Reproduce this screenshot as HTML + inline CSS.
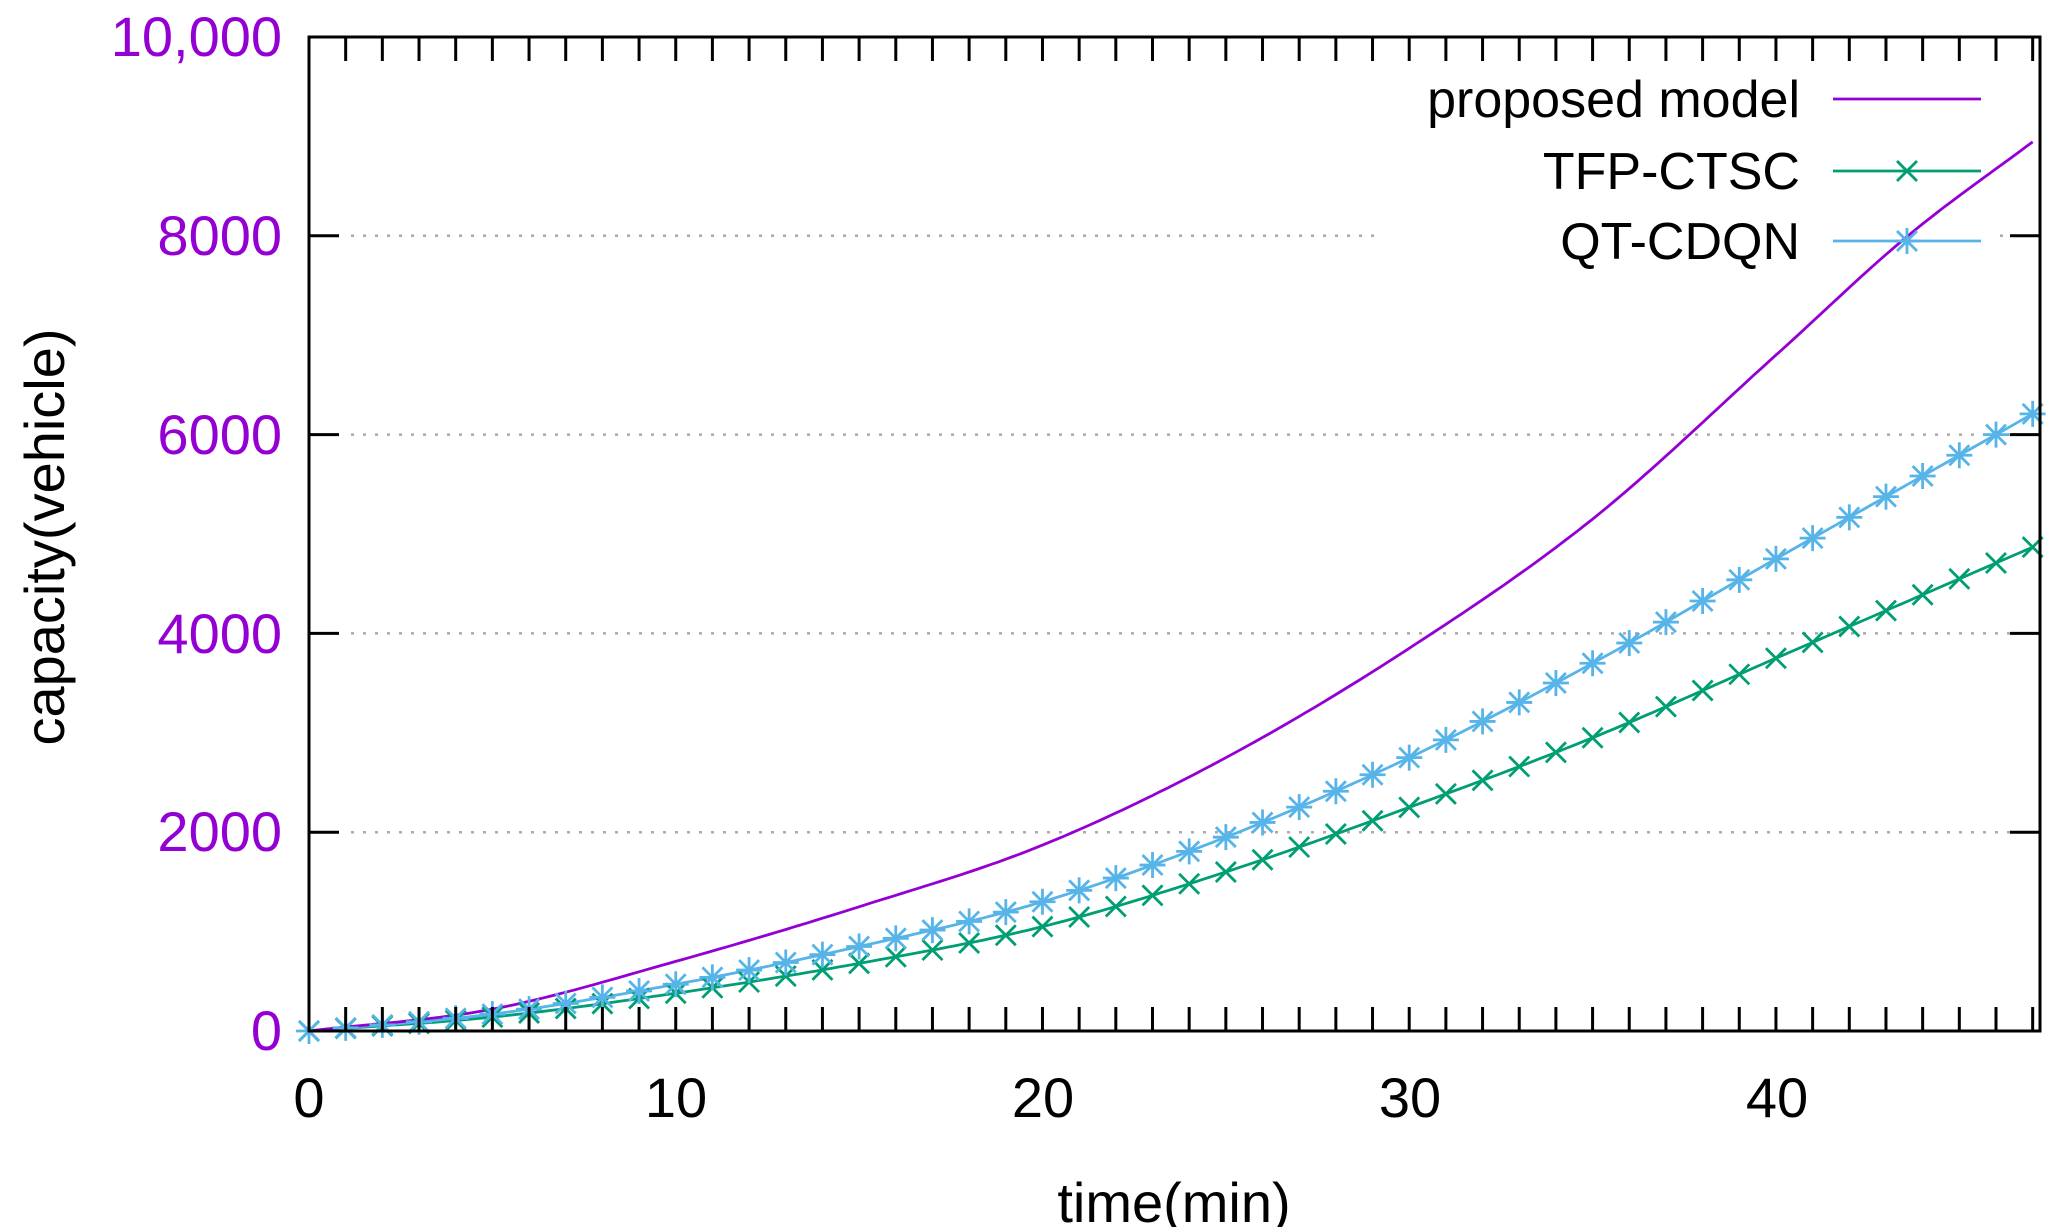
<!DOCTYPE html>
<html><head><meta charset="utf-8"><style>
html,body{margin:0;padding:0;background:#fff;}
svg{display:block;font-family:"Liberation Sans",sans-serif;}
</style></head><body>
<svg id="s" width="2054" height="1227" viewBox="0 0 2054 1227" xmlns="http://www.w3.org/2000/svg">
<g id="grid" stroke="#aaa" stroke-width="2.5" stroke-dasharray="3,9"></g>
<g id="series"></g>
<rect x="309" y="37" width="1731" height="994" fill="none" stroke="#000" stroke-width="3"/>
<g id="ticks" stroke="#000" stroke-width="3"></g>
<g font-size="56" fill="#9400d3" text-anchor="end">
<text x="282" y="56">10,000</text>
<text x="282" y="255">8000</text>
<text x="282" y="454">6000</text>
<text x="282" y="653">4000</text>
<text x="282" y="851">2000</text>
<text x="282" y="1050">0</text>
</g>
<g font-size="56" fill="#000" text-anchor="middle">
<text x="309" y="1117">0</text>
<text x="676" y="1117">10</text>
<text x="1043" y="1117">20</text>
<text x="1410" y="1117">30</text>
<text x="1777" y="1117">40</text>
<text x="1174" y="1222">time(min)</text>
<text transform="translate(64,537) rotate(-90)">capacity(vehicle)</text>
</g>
<g font-size="52" fill="#000" text-anchor="end">
<text x="1800" y="117">proposed model</text>
<text x="1800" y="189">TFP-CTSC</text>
<text x="1800" y="259">QT-CDQN</text>
</g>
<g id="legend"></g>
</svg>
<script>
const X0=309,X1=2040,Y0=1031,Y1=37,XM=47.2,YM=10000;
const sx=t=>X0+(X1-X0)*t/XM, sy=v=>Y0-(Y0-Y1)*v/YM;
const ns="http://www.w3.org/2000/svg";
function el(p,n,a){const e=document.createElementNS(ns,n);for(const k in a)e.setAttribute(k,a[k]);p.appendChild(e);return e;}
const grid=document.getElementById('grid');
[2000,4000,6000,8000].forEach(v=>{
 if(v==8000){el(grid,'line',{x1:351,y1:sy(v),x2:1378,y2:sy(v)});el(grid,'line',{x1:2000,y1:sy(v),x2:2030,y2:sy(v)});}
 else el(grid,'line',{x1:351,y1:sy(v),x2:2030,y2:sy(v)});
});
const tk=document.getElementById('ticks');
for(let t=1;t<=47;t++){const L=24;
 el(tk,'line',{x1:sx(t),y1:Y0,x2:sx(t),y2:Y0-L});el(tk,'line',{x1:sx(t),y1:Y1,x2:sx(t),y2:Y1+L});}
[2000,4000,6000,8000].forEach(v=>{el(tk,'line',{x1:X0,y1:sy(v),x2:X0+30,y2:sy(v)});el(tk,'line',{x1:X1,y1:sy(v),x2:X1-30,y2:sy(v)});});
function interp(pts,t){for(let i=0;i<pts.length-1;i++){if(t<=pts[i+1][0]){
 const p0=pts[Math.max(i-1,0)],p1=pts[i],p2=pts[i+1],p3=pts[Math.min(i+2,pts.length-1)];
 const u=(t-p1[0])/(p2[0]-p1[0]);
 const m1=(p2[1]-p0[1])/(p2[0]-p0[0])*(p2[0]-p1[0]),m2=(p3[1]-p1[1])/(p3[0]-p1[0])*(p2[0]-p1[0]);
 const h00=2*u*u*u-3*u*u+1,h10=u*u*u-2*u*u+u,h01=-2*u*u*u+3*u*u,h11=u*u*u-u*u;
 return h00*p1[1]+h10*m1+h01*p2[1]+h11*m2;}}return pts[pts.length-1][1];}
const P=[[0,0],[5,220],[10,700],[15,1250],[20,1870],[25,2750],[30,3850],[35,5150],[40,6800],[43.6,8000],[47.2,9000]];
const Q=[[0,0],[5,170],[10,470],[15,850],[20,1300],[25,1950],[30,2750],[35,3700],[40,4750],[47.2,6250]];
const T=[[0,0],[5,140],[10,380],[15,680],[20,1050],[25,1600],[30,2250],[35,2950],[40,3750],[47.2,4900]];
const g=document.getElementById('series');
function line(pts,c){let d='';for(let t=0;t<=47.2;t+=0.2){d+=(d?'L':'M')+sx(t).toFixed(1)+','+sy(interp(pts,t)).toFixed(1);}
 el(g,'path',{d:d,fill:'none',stroke:c,'stroke-width':2.8});}
function cross(p,x,y,c,r){el(p,'path',{d:`M${x-r},${y-r}L${x+r},${y+r}M${x-r},${y+r}L${x+r},${y-r}`,stroke:c,'stroke-width':2.8,fill:'none'});}
function star(p,x,y,c,r){el(p,'path',{d:`M${x-r},${y-r}L${x+r},${y+r}M${x-r},${y+r}L${x+r},${y-r}M${x-r*1.3},${y}L${x+r*1.3},${y}M${x},${y-r*1.3}L${x},${y+r*1.3}`,stroke:c,'stroke-width':2.8,fill:'none'});}
line(T,'#009e73');line(Q,'#56b4e9');line(P,'#9400d3');
for(let t=0;t<=47;t++){cross(g,sx(t),sy(interp(T,t)),'#009e73',10);star(g,sx(t),sy(interp(Q,t)),'#56b4e9',10);}
const lg=document.getElementById('legend');
el(lg,'line',{x1:1833,y1:99,x2:1981,y2:99,stroke:'#9400d3','stroke-width':2.8});
el(lg,'line',{x1:1833,y1:171,x2:1981,y2:171,stroke:'#009e73','stroke-width':2.8});cross(lg,1907,171,'#009e73',10);
el(lg,'line',{x1:1833,y1:241,x2:1981,y2:241,stroke:'#56b4e9','stroke-width':2.8});star(lg,1907,241,'#56b4e9',10);
</script>
</body></html>
